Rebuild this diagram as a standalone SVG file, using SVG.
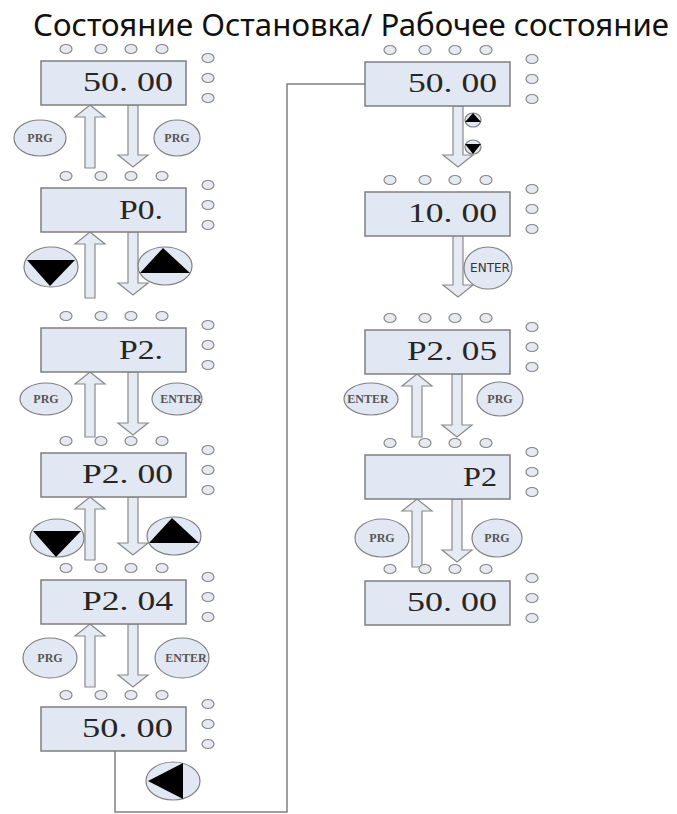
<svg xmlns="http://www.w3.org/2000/svg" xmlns:xlink="http://www.w3.org/1999/xlink" width="677" height="814" viewBox="0 0 677 814">
<style>
.disp{fill:#e2e8f3;stroke:#7f7f7f;stroke-width:1.5}
.dot{fill:#e6e9ef;stroke:#888;stroke-width:1.2}
.arr{fill:#e6ebf3;stroke:#8a8a8a;stroke-width:1.2}
.btn{fill:#e2e8f3;stroke:#808080;stroke-width:1.2}
.tri{fill:#000}
.dtxt{font-family:"Liberation Serif",serif;font-size:27px;fill:#262626}
.btxt{font-family:"Liberation Serif",serif;font-size:12px;font-weight:bold;fill:#555;text-anchor:middle}
.stxt{font-family:"DejaVu Sans",sans-serif;font-size:12px;fill:#333;text-anchor:middle}
.title{font-family:"Noto Sans","DejaVu Sans",sans-serif;font-size:31px;fill:#111}
.line{fill:none;stroke:#808080;stroke-width:1.5}
</style>
<defs>
<g id="panel">
<rect class="disp" x="0" y="0" width="145" height="44"/>
<ellipse class="dot" cx="25" cy="-12" rx="6" ry="4.5"/>
<ellipse class="dot" cx="60" cy="-12" rx="6" ry="4.5"/>
<ellipse class="dot" cx="90" cy="-12" rx="6" ry="4.5"/>
<ellipse class="dot" cx="121" cy="-12" rx="6" ry="4.5"/>
<ellipse class="dot" cx="167" cy="-3" rx="6" ry="4.5"/>
<ellipse class="dot" cx="167" cy="17" rx="6" ry="4.5"/>
<ellipse class="dot" cx="167" cy="37" rx="6" ry="4.5"/>
</g>
</defs>

<text class="title" x="33" y="36" textLength="636" lengthAdjust="spacingAndGlyphs">Состояние Остановка/ Рабочее состояние</text>

<g id="connectors">
<path class="line" d="M115,751 V812 H287 V84 H365"/>
<path class="arr" d="M90,105 L105,117 L95,117 L95,168 L85,168 L85,117 L75,117 Z"/>
<path class="arr" d="M128,105 L138,105 L138,155 L148,155 L133,167 L118,155 L128,155 Z"/>
<path class="arr" d="M90,232 L105,244 L95,244 L95,298 L85,298 L85,244 L75,244 Z"/>
<path class="arr" d="M128,232 L138,232 L138,283 L148,283 L133,295 L118,283 L128,283 Z"/>
<path class="arr" d="M90,372 L105,384 L95,384 L95,437 L85,437 L85,384 L75,384 Z"/>
<path class="arr" d="M128,372 L138,372 L138,423 L148,423 L133,435 L118,423 L128,423 Z"/>
<path class="arr" d="M90,497 L105,509 L95,509 L95,560 L85,560 L85,509 L75,509 Z"/>
<path class="arr" d="M128,497 L138,497 L138,543 L148,543 L133,555 L118,543 L128,543 Z"/>
<path class="arr" d="M90,624 L105,636 L95,636 L95,687 L85,687 L85,636 L75,636 Z"/>
<path class="arr" d="M128,624 L138,624 L138,675 L148,675 L133,687 L118,675 L128,675 Z"/>
<path class="arr" d="M453,106 L463,106 L463,155 L473,155 L458,167 L443,155 L453,155 Z"/>
<path class="arr" d="M453,235 L463,235 L463,285 L473,285 L458,297 L443,285 L453,285 Z"/>
<path class="arr" d="M417,374 L432,386 L422,386 L422,437 L412,437 L412,386 L402,386 Z"/>
<path class="arr" d="M452,374 L462,374 L462,425 L472,425 L457,437 L442,425 L452,425 Z"/>
<path class="arr" d="M417,499 L432,511 L422,511 L422,567 L412,567 L412,511 L402,511 Z"/>
<path class="arr" d="M452,499 L462,499 L462,550 L472,550 L457,562 L442,550 L452,550 Z"/>
</g>

<g id="buttons">
<g id="b1"><ellipse class="btn" cx="40" cy="138" rx="26" ry="18"/><text class="btxt" x="40" y="142">PRG</text></g>
<g id="b2"><ellipse class="btn" cx="177" cy="138" rx="23" ry="18"/><text class="btxt" x="177" y="142">PRG</text></g>
<g id="b3"><ellipse class="btn" cx="51" cy="267" rx="27" ry="20"/><path class="tri" d="M27,260 L75,260 L50,286 Z"/></g>
<g id="b4"><ellipse class="btn" cx="165" cy="266" rx="27" ry="19"/><path class="tri" d="M163,248 L190,273 L140,273 Z"/></g>
<g id="b5"><ellipse class="btn" cx="46" cy="399" rx="26" ry="16"/><text class="btxt" x="46" y="403">PRG</text></g>
<g id="b6"><ellipse class="btn" cx="177" cy="399" rx="25" ry="16"/><text class="btxt" x="181" y="403">ENTER</text></g>
<g id="b7"><ellipse class="btn" cx="57" cy="538" rx="27" ry="19"/><path class="tri" d="M33,531 L81,531 L56,557 Z"/></g>
<g id="b8"><ellipse class="btn" cx="174" cy="536" rx="27" ry="19"/><path class="tri" d="M172,518 L199,543 L149,543 Z"/></g>
<g id="b9"><ellipse class="btn" cx="50" cy="658" rx="27" ry="20"/><text class="btxt" x="50" y="662">PRG</text></g>
<g id="b10"><ellipse class="btn" cx="182" cy="658" rx="27" ry="20"/><text class="btxt" x="186" y="662">ENTER</text></g>
<g id="b11"><ellipse class="btn" cx="173" cy="781" rx="27" ry="19"/><path class="tri" d="M148,781 L183,763 L183,799 Z"/></g>
<g id="b12"><ellipse class="btn" cx="473" cy="120" rx="8" ry="7"/><path class="tri" d="M473,113 L481,122 L465,122 Z"/></g>
<g id="b13"><ellipse class="btn" cx="473" cy="147" rx="8" ry="7"/><path class="tri" d="M465,144 L481,144 L473,154 Z"/></g>
<g id="b14"><ellipse class="btn" cx="488" cy="268" rx="24" ry="21"/><text class="stxt" x="490" y="272">ENTER</text></g>
<g id="b15"><ellipse class="btn" cx="371" cy="399" rx="27" ry="16"/><text class="btxt" x="368" y="403">ENTER</text></g>
<g id="b16"><ellipse class="btn" cx="500" cy="399" rx="23" ry="17"/><text class="btxt" x="500" y="403">PRG</text></g>
<g id="b17"><ellipse class="btn" cx="382" cy="538" rx="27" ry="19"/><text class="btxt" x="382" y="542">PRG</text></g>
<g id="b18"><ellipse class="btn" cx="497" cy="538" rx="25" ry="19"/><text class="btxt" x="497" y="542">PRG</text></g>
</g>

<g id="n1"><use href="#panel" x="41" y="61"/><text class="dtxt" x="83" y="91" textLength="90" lengthAdjust="spacingAndGlyphs">50. 00</text></g>
<g id="n2"><use href="#panel" x="41" y="188"/><text class="dtxt" x="119" y="219" textLength="44" lengthAdjust="spacingAndGlyphs">P0.</text></g>
<g id="n3"><use href="#panel" x="41" y="328"/><text class="dtxt" x="119" y="359" textLength="44" lengthAdjust="spacingAndGlyphs">P2.</text></g>
<g id="n4"><use href="#panel" x="41" y="453"/><text class="dtxt" x="82" y="483" textLength="91" lengthAdjust="spacingAndGlyphs">P2. 00</text></g>
<g id="n5"><use href="#panel" x="41" y="580"/><text class="dtxt" x="82" y="610" textLength="91" lengthAdjust="spacingAndGlyphs">P2. 04</text></g>
<g id="n6"><use href="#panel" x="41" y="707"/><text class="dtxt" x="82" y="737" textLength="91" lengthAdjust="spacingAndGlyphs">50. 00</text></g>
<g id="n7"><use href="#panel" x="365" y="62"/><text class="dtxt" x="408" y="92" textLength="89" lengthAdjust="spacingAndGlyphs">50. 00</text></g>
<g id="n8"><use href="#panel" x="365" y="192"/><text class="dtxt" x="408" y="222" textLength="89" lengthAdjust="spacingAndGlyphs">10. 00</text></g>
<g id="n9"><use href="#panel" x="365" y="330"/><text class="dtxt" x="407" y="360" textLength="90" lengthAdjust="spacingAndGlyphs">P2. 05</text></g>
<g id="n10"><use href="#panel" x="365" y="455"/><text class="dtxt" x="463" y="486" textLength="34" lengthAdjust="spacingAndGlyphs">P2</text></g>
<g id="n11"><use href="#panel" x="365" y="581"/><text class="dtxt" x="407" y="611" textLength="90" lengthAdjust="spacingAndGlyphs">50. 00</text></g>
</svg>
